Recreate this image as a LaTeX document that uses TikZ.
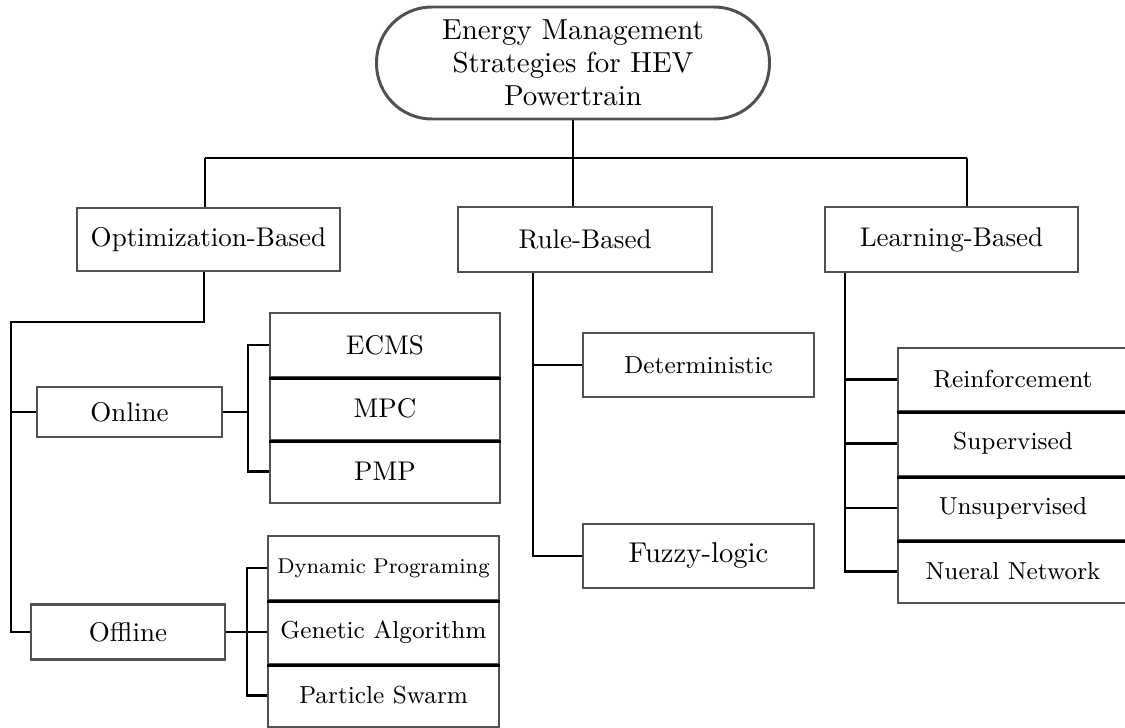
\documentclass[tikz,border=0pt]{standalone}
\usetikzlibrary{calc}
\definecolor{edgegray}{HTML}{505050}
\tikzset{
  box/.style={draw=edgegray, line width=1.1pt, rectangle, inner sep=0pt, align=center,
              font=\fontsize{10}{12}\selectfont},
  dims/.style 2 args={minimum width=#1*0.37pt, minimum height=#2*0.37pt},
  small/.style={font=\fontsize{9.1}{11}\selectfont},
  tiny/.style={font=\fontsize{7.9}{10}\selectfont},
  wire/.style={draw=black, line width=0.8pt},
  divider/.style={draw=black, line width=1.1pt},
}
\begin{document}
\begin{tikzpicture}[x=0.37pt, y=-0.37pt]
\useasboundingbox (0,0) rectangle (1125,728);
\clip (0,0) rectangle (1125,728);

% root
\node[box, dims={393}{112}, rounded corners=20.5pt,
      font=\fontsize{10.7}{12.3}\selectfont] (root) at (573,63)
  {Energy Management\\Strategies for HEV\\Powertrain};

% first level
\node[box, dims={263}{63}] (opt)   at (208.5,239.5) {Optimization-Based};
\node[box, dims={254}{65}] (rule)  at (585,239.5)   {Rule-Based};
\node[box, dims={253}{65}] (learn) at (951.5,239.5) {Learning-Based};

% optimization branch
\node[box, dims={185}{50}] (online)  at (129.5,412) {Online};
\node[box, dims={194}{55}] (offline) at (128,632)   {Offline};

\node[box, dims={230}{64}] (ecms) at (385,345)   {ECMS};
\node[box, dims={230}{63}] (mpc)  at (385,408.5) {MPC};
\node[box, dims={230}{63}] (pmp)  at (385,471.5) {PMP};

\node[box, tiny,  dims={231}{64}] (dp) at (383.5,568)   {Dynamic Programing};
\node[box, small, dims={231}{64}] (ga) at (383.5,632)   {Genetic Algorithm};
\node[box, small, dims={231}{63}] (ps) at (383.5,695.5) {Particle Swarm};

% rule branch
\node[box, small, dims={231}{64}] (det) at (698.5,365) {Deterministic};
\node[box, dims={231}{64}, font=\fontsize{10.6}{12}\selectfont] (fuzzy) at (698.5,556) {Fuzzy-logic};

% learning branch
\node[box, small, dims={230}{63}] (rl)  at (1013,379.5) {Reinforcement};
\node[box, small, dims={230}{65}] (sl)  at (1013,443.5) {Supervised};
\node[box, small, dims={230}{64}] (ul)  at (1013,508)   {Unsupervised};
\node[box, small, dims={230}{63}] (nn)  at (1013,571.5) {Nueral Network};

% separators inside the stacked lists
\foreach \a in {ecms,mpc,dp,ga,rl,sl,ul}
  \draw[divider] (\a.south west) -- (\a.south east);

% top bus
\coordinate (busl) at (205,158);
\coordinate (busr) at (967,158);
\draw[wire] (busl) -- (busr);
\draw[wire] (root.south) -- (root.south |- busl);
\draw[wire] (busl) -- (busl |- opt.north);
\draw[wire] (root.south |- busl) -- (root.south |- rule.north);
\draw[wire] (busr) -- (busr |- learn.north);

% optimization-based tree
\coordinate (odrop) at (204,322);
\coordinate (otrunk) at (11,322);
\draw[wire] (odrop |- opt.south) -- (odrop) -- (otrunk) |- (offline.west);
\draw[wire] (otrunk |- online.west) -- (online.west);

\coordinate (onb) at (248,412);
\draw[wire] (online.east) -- (onb);
\draw[wire] (ecms.west) -| (onb) |- (pmp.west);

\coordinate (ofb) at (247,632);
\draw[wire] (offline.east) -- (ga.west);
\draw[wire] (dp.west) -| (ofb) |- (ps.west);

% rule-based tree
\coordinate (rtrunk) at (533,0);
\draw[wire] (rtrunk |- rule.south) |- (fuzzy.west);
\draw[wire] (rtrunk |- det.west) -- (det.west);

% learning-based tree
\coordinate (ltrunk) at (845,0);
\draw[wire] (ltrunk |- learn.south) |- (nn.west);
\foreach \a in {rl,sl,ul}
  \draw[wire] (ltrunk |- \a.west) -- (\a.west);
\end{tikzpicture}
\end{document}
